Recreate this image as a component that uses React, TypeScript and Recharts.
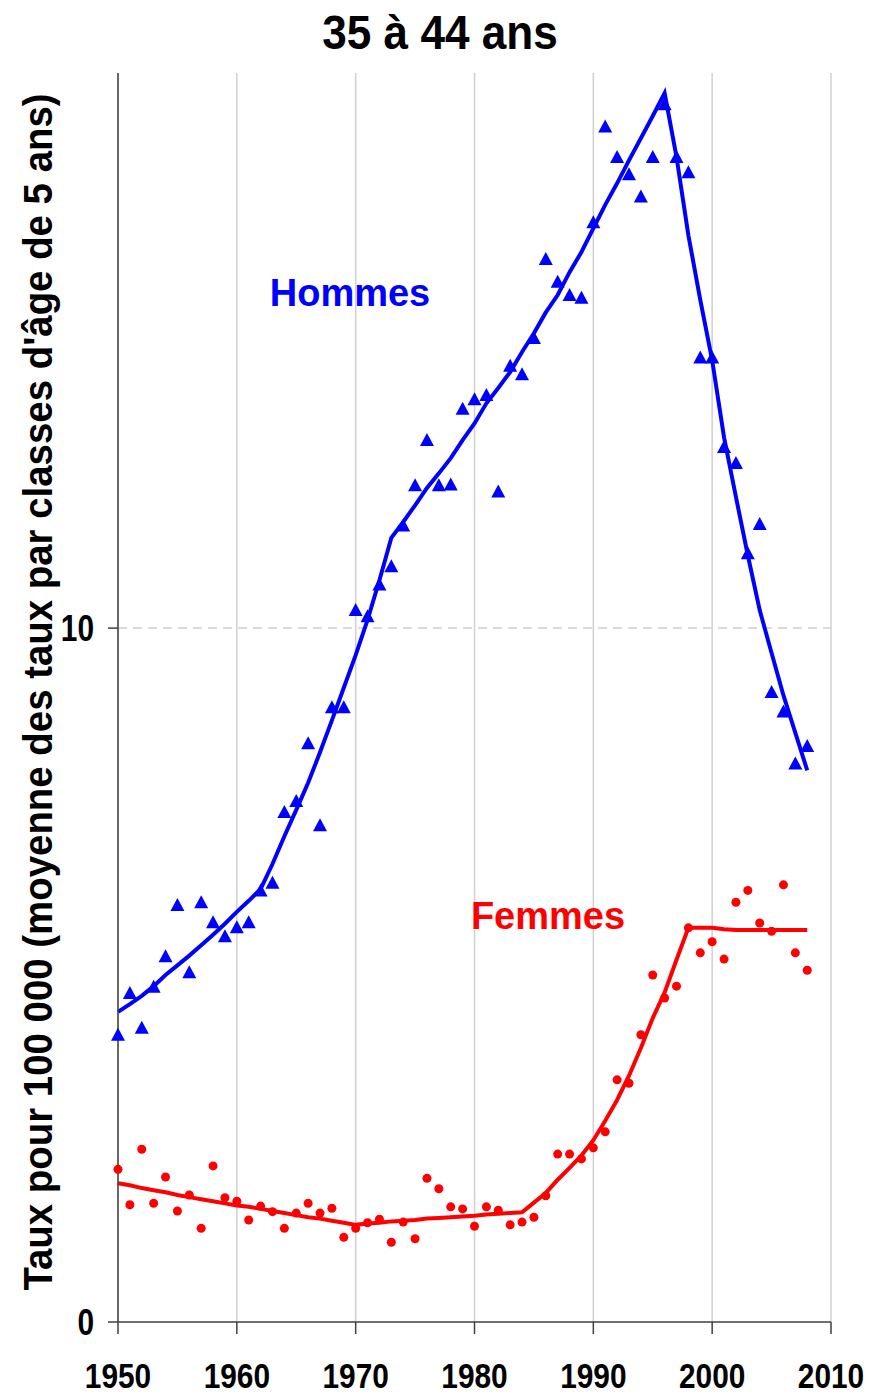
import React from 'react';
import {
  CartesianGrid,
  ComposedChart,
  Line,
  ReferenceLine,
  Scatter,
  XAxis,
  YAxis
} from 'recharts';

const years = [
  1950, 1951, 1952, 1953, 1954, 1955, 1956, 1957, 1958, 1959,
  1960, 1961, 1962, 1963, 1964, 1965, 1966, 1967, 1968, 1969,
  1970, 1971, 1972, 1973, 1974, 1975, 1976, 1977, 1978, 1979,
  1980, 1981, 1982, 1983, 1984, 1985, 1986, 1987, 1988, 1989,
  1990, 1991, 1992, 1993, 1994, 1995, 1996, 1997, 1998, 1999,
  2000, 2001, 2002, 2003, 2004, 2005, 2006, 2007, 2008
];

const hommesRates = [
  4.14, 4.74, 4.24, 4.83, 5.27, 6.01, 5.04, 6.05, 5.76, 5.56,
  5.69, 5.76, 6.22, 6.33, 7.35, 7.51, 8.34, 7.16, 8.86, 8.86,
  10.26, 10.17, 10.63, 10.89, 11.48, 12.06, 12.71, 12.06, 12.07, 13.16,
  13.3, 13.36, 11.97, 13.78, 13.66, 14.18, 15.32, 14.99, 14.8, 14.76,
  15.85, 17.23, 16.79, 16.54, 16.22, 16.79, 17.55, 16.79, 16.57, 13.9,
  13.9, 12.61, 12.38, 11.08, 11.5, 9.08, 8.8, 8.05, 8.3
];

const hommesTrend = [
  4.47, 4.58, 4.7, 4.84, 5.0, 5.14, 5.28, 5.43, 5.58, 5.74,
  5.91, 6.07, 6.24, 6.6, 7.0, 7.38, 7.77, 8.21, 8.67, 9.14,
  9.61, 10.12, 10.69, 11.3, 11.53, 11.77, 12.02, 12.23, 12.45, 12.71,
  12.95, 13.24, 13.46, 13.69, 13.98, 14.25, 14.55, 14.8, 15.13, 15.42,
  15.76, 16.1, 16.41, 16.74, 17.06, 17.38, 17.71, 16.79, 15.66, 14.73,
  13.86, 12.75, 11.89, 11.05, 10.26, 9.64, 9.03, 8.49, 7.95
];

const femmesRates = [
  2.2, 1.69, 2.49, 1.71, 2.09, 1.6, 1.83, 1.35, 2.25, 1.79,
  1.74, 1.47, 1.67, 1.59, 1.35, 1.57, 1.71, 1.57, 1.64, 1.22,
  1.35, 1.43, 1.48, 1.15, 1.44, 1.2, 2.07, 1.92, 1.66, 1.63,
  1.38, 1.66, 1.61, 1.4, 1.44, 1.51, 1.82, 2.42, 2.42, 2.35,
  2.51, 2.74, 3.49, 3.44, 4.14, 5.0, 4.67, 4.84, 5.68, 5.32,
  5.48, 5.23, 6.05, 6.22, 5.75, 5.63, 6.3, 5.32, 5.07
];

const femmesTrend = [
  2.0, 1.97, 1.93, 1.9, 1.87, 1.83, 1.8, 1.77, 1.74, 1.71,
  1.68, 1.66, 1.63, 1.6, 1.57, 1.54, 1.51, 1.49, 1.46, 1.43,
  1.4, 1.42, 1.43, 1.45, 1.46, 1.47, 1.49, 1.5, 1.51, 1.52,
  1.53, 1.55, 1.56, 1.57, 1.58, 1.72, 1.86, 2.05, 2.22, 2.4,
  2.62, 2.9, 3.2, 3.55, 3.95, 4.38, 4.75, 5.22, 5.68, 5.68,
  5.68, 5.66, 5.65, 5.65, 5.65, 5.65, 5.65, 5.65, 5.65
];

const xTicks = [1950, 1960, 1970, 1980, 1990, 2000, 2010];
const yTicks = [0, 10];

const data = years.map((year, i) => ({
  year,
  hRate: hommesRates[i],
  hTrend: hommesTrend[i],
  fRate: femmesRates[i],
  fTrend: femmesTrend[i]
}));

const font = "'Liberation Sans', Arial, sans-serif";

// condensed bold labels, like Arial Narrow in the original
const XTick = (p: any) => {
  const label = String(p.payload.value);
  return (
    <text
      x={p.x}
      y={p.y + 28}
      textAnchor="middle"
      textLength={label.length * 16.6}
      lengthAdjust="spacingAndGlyphs"
      fontFamily={font}
      fontWeight={700}
      fontSize={35}
      fill="#000"
    >
      {label}
    </text>
  );
};

const YTick = (p: any) => {
  const label = String(p.payload.value);
  return (
    <text
      x={p.x}
      y={p.y + 13}
      textAnchor="end"
      textLength={label.length * 16.6}
      lengthAdjust="spacingAndGlyphs"
      fontFamily={font}
      fontWeight={700}
      fontSize={36}
      fill="#000"
    >
      {label}
    </text>
  );
};

const Triangle = (props: any) => {
  const { cx, cy } = props;
  if (cx == null || cy == null) return null;
  return (
    <polygon
      points={`${cx},${cy - 7} ${cx + 7},${cy + 6} ${cx - 7},${cy + 6}`}
      fill="#0000ff"
    />
  );
};

const Dot = (props: any) => {
  const { cx, cy } = props;
  if (cx == null || cy == null) return null;
  return <circle cx={cx} cy={cy} r={4.5} fill="#ff0000" />;
};

export default function App() {
  return (
    <div style={{ position: 'relative', width: 888, height: 1396, background: '#fff' }}>
      <style>{'body { margin: 0; }'}</style>
      <ComposedChart
        width={888}
        height={1396}
        data={data}
        margin={{ top: 73, right: 57, left: 58, bottom: 14 }}
      >
        <CartesianGrid horizontal={false} stroke="#d0d0d0" strokeWidth={1.5} />
        <ReferenceLine y={10} stroke="#cfcfcf" strokeWidth={1.5} strokeDasharray="9 6" />
        <XAxis
          type="number"
          dataKey="year"
          domain={[1950, 2010]}
          ticks={xTicks}
          interval={0}
          height={60}
          tickSize={12}
          tickMargin={26}
          axisLine={{ stroke: '#404040', strokeWidth: 1.5 }}
          tickLine={{ stroke: '#404040', strokeWidth: 1.5 }}
          tick={XTick}
        />
        <YAxis
          type="number"
          domain={[0, 18]}
          ticks={yTicks}
          interval={0}
          width={60}
          tickSize={10}
          tickMargin={14}
          axisLine={{ stroke: '#404040', strokeWidth: 1.5 }}
          tickLine={{ stroke: '#404040', strokeWidth: 1.5 }}
          tick={YTick}
        />
        <Scatter dataKey="hRate" shape={Triangle} isAnimationActive={false} />
        <Scatter dataKey="fRate" shape={Dot} isAnimationActive={false} />
        <Line
          type="linear"
          dataKey="hTrend"
          stroke="#0000ff"
          strokeWidth={4}
          dot={false}
          activeDot={false}
          isAnimationActive={false}
        />
        <Line
          type="linear"
          dataKey="fTrend"
          stroke="#ff0000"
          strokeWidth={4}
          dot={false}
          activeDot={false}
          isAnimationActive={false}
        />
      </ComposedChart>

      <div
        style={{
          position: 'absolute',
          left: 0,
          top: 4,
          width: 880,
          textAlign: 'center',
          fontFamily: font,
          fontWeight: 700,
          fontSize: 49,
          lineHeight: '56px',
          color: '#000',
          transform: 'scaleX(0.9)',
          transformOrigin: '440px 0'
        }}
      >
        35 à 44 ans
      </div>

      <div
        style={{
          position: 'absolute',
          left: 38,
          top: 692,
          transform: 'translate(-50%, -50%) rotate(-90deg) scaleX(0.96)',
          whiteSpace: 'nowrap',
          fontFamily: font,
          fontWeight: 700,
          fontSize: 40,
          lineHeight: '40px',
          color: '#000'
        }}
      >
        Taux pour 100 000 (moyenne des taux par classes d'âge de 5 ans)
      </div>

      <div
        style={{
          position: 'absolute',
          left: 350,
          top: 293,
          transform: 'translate(-50%, -50%)',
          whiteSpace: 'nowrap',
          fontFamily: font,
          fontWeight: 700,
          fontSize: 38,
          color: '#0000ff'
        }}
      >
        Hommes
      </div>

      <div
        style={{
          position: 'absolute',
          left: 548,
          top: 916,
          transform: 'translate(-50%, -50%)',
          whiteSpace: 'nowrap',
          fontFamily: font,
          fontWeight: 700,
          fontSize: 38,
          color: '#ff0000'
        }}
      >
        Femmes
      </div>
    </div>
  );
}
